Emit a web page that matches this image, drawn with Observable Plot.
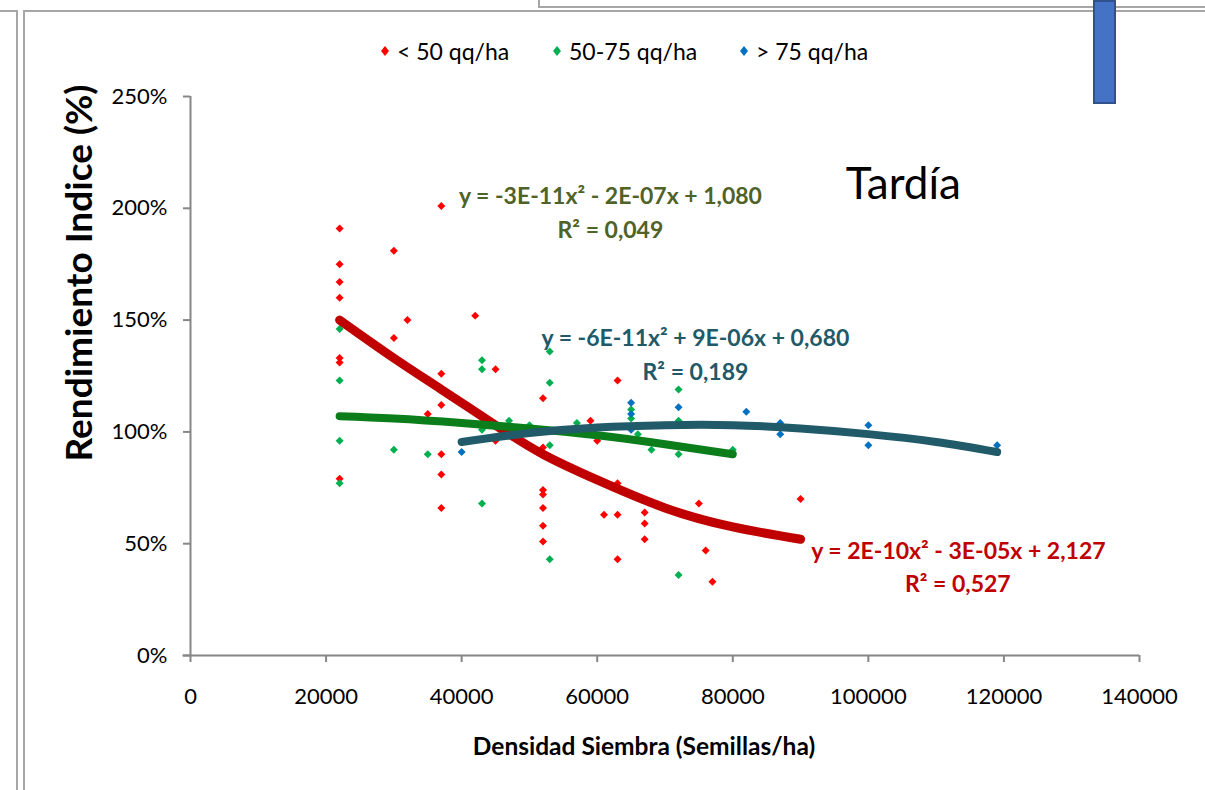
<!DOCTYPE html>
<html>
<head>
<meta charset="utf-8">
<script src="https://cdn.jsdelivr.net/npm/d3@7"></script>
<script src="https://cdn.jsdelivr.net/npm/@observablehq/plot@0.6"></script>
<style>
  html, body { margin: 0; padding: 0; background: #fff; }
  #wrap { position: relative; width: 1205px; height: 790px; overflow: hidden; font-family: Lato, "Open Sans", sans-serif; }
  #wrap svg.plot { position: absolute; left: 0; top: 0; }
  .deco { position: absolute; }
  #legend { position: absolute; top: 37px; left: 381px; font-size: 23px; color: #000; white-space: nowrap; }
  #legend .item { position: absolute; top: 0; display: flex; align-items: center; }
  #legend svg { margin-right: 8px; }
</style>
</head>
<body>
<div id="wrap">
  <div class="deco" style="left:0;top:10px;width:17px;height:2px;background:#a6a6a6"></div>
  <div class="deco" style="left:16px;top:10px;width:2px;height:780px;background:#a6a6a6"></div>
  <div class="deco" style="left:23px;top:10px;width:1182px;height:2px;background:#a6a6a6"></div>
  <div class="deco" style="left:23px;top:10px;width:2px;height:780px;background:#a6a6a6"></div>
  <div class="deco" style="left:538px;top:0;width:2px;height:8px;background:#a6a6a6"></div>
  <div class="deco" style="left:538px;top:6px;width:667px;height:2px;background:#a6a6a6"></div>
  <div id="legend"></div>
  <div class="deco" style="left:1093px;top:0;width:19px;height:100px;background:#4472C4;border:2px solid #2F528F;z-index:5"></div>
</div>
<script>
// ---- Data ----
const seriesNames = ["< 50 qq/ha", "50-75 qq/ha", "> 75 qq/ha"];
const pointColors = ["#FF0000", "#00B050", "#0070C0"];
const lineColors = ["#C00000", "#0B7D1B", "#215A68"];

// < 50 qq/ha scatter (density, yield index %)
const redX = [22000,22000,22000,22000,22000,22000,22000,
              30000,30000,32000,35000,
              37000,37000,37000,37000,37000,37000,37000,
              42000,45000,45000,
              52000,52000,52000,52000,52000,52000,52000,
              59000,60000,61000,63000,63000,63000,63000,
              67000,67000,67000,75000,76000,77000,90000];
const redY = [191,175,167,160,133,131,79,
              181,142,150,108,
              201,126,119,112,90,81,66,
              152,128,96,
              115,93,74,72,66,58,51,
              105,96,63,123,77,63,43,
              64,59,52,68,47,33,70];

// 50-75 qq/ha scatter
const greenX = [22000,22000,22000,22000,30000,35000,
                43000,43000,43000,43000,47000,50000,
                53000,53000,53000,53000,57000,65000,65000,66000,68000,
                72000,72000,72000,72000,80000];
const greenY = [146,123,96,77,92,90,
                132,128,101,68,105,103,
                136,122,94,43,104,110,106,99,92,
                119,105,90,36,92];

// > 75 qq/ha scatter
const blueX = [40000,65000,65000,65000,72000,82000,87000,87000,100000,100000,119000];
const blueY = [91,113,108,101,111,109,104,99,103,94,94];

// Trend lines
const redTrendX = [22000,30000,37000,45000,52000,60000,70000,80000,90000];
const redTrendY = [150,133,119,103,90,78.5,66,57.5,52];
const greenTrendX = [22000,30000,40000,50000,60000,70000,80000];
const greenTrendY = [107,106,104,101.5,98.5,94.5,90];
const blueTrendX = [40000,50000,60000,70000,80000,90000,100000,110000,119000];
const blueTrendY = [95.5,99.5,102,103,103,101.5,99,95.5,91];

const xTicks = [0,20000,40000,60000,80000,100000,120000,140000];
const yTicks = [0,0.5,1,1.5,2,2.5];

const eqTexts = ["y = -3E-11x² - 2E-07x + 1,080", "R² = 0,049",
                 "y = -6E-11x² + 9E-06x + 0,680", "R² = 0,189",
                 "y = 2E-10x² - 3E-05x + 2,127", "R² = 0,527"];
const titleText = "Tardía";
const yTitle = "Rendimiento Indice (%)";
const xTitle = "Densidad Siembra (Semillas/ha)";

// ---- Build tables ----
const pts = [];
[[redX, redY], [greenX, greenY], [blueX, blueY]].forEach(([xs, ys], s) => {
  xs.forEach((x, i) => pts.push({x, y: ys[i] / 100, s}));
});
const trends = [];
[[redTrendX, redTrendY], [greenTrendX, greenTrendY], [blueTrendX, blueTrendY]].forEach(([xs, ys], s) => {
  xs.forEach((x, i) => trends.push({x, y: ys[i] / 100, s}));
});
const tr = s => trends.filter(d => d.s === s);

const eqs = [
  {t: eqTexts[0], x: 61950, y: 2.053, c: "#4F6228"},
  {t: eqTexts[1], x: 61950, y: 1.90, c: "#4F6228"},
  {t: eqTexts[2], x: 74490, y: 1.418, c: "#215968"},
  {t: eqTexts[3], x: 74490, y: 1.266, c: "#215968"},
  {t: eqTexts[4], x: 113280, y: 0.465, c: "#C00000"},
  {t: eqTexts[5], x: 113200, y: 0.318, c: "#C00000"}
];

const axisGray = "#868686";
const chart = Plot.plot({
  width: 1205, height: 790,
  marginLeft: 190, marginRight: 66, marginTop: 96, marginBottom: 135,
  style: {fontFamily: "Lato, 'Open Sans', sans-serif", fontSize: "22px", color: "#000", background: "transparent"},
  x: {domain: [0, 140000]},
  y: {domain: [0, 2.5]},
  marks: [
    Plot.dot(pts, {x: "x", y: "y", fill: d => pointColors[d.s], symbol: "diamond2", r: 3.6, stroke: null}),
    Plot.line(tr(0), {x: "x", y: "y", stroke: lineColors[0], strokeWidth: 9, curve: "natural", strokeLinecap: "round"}),
    Plot.line(tr(1), {x: "x", y: "y", stroke: lineColors[1], strokeWidth: 8, curve: "natural", strokeLinecap: "round"}),
    Plot.line(tr(2), {x: "x", y: "y", stroke: lineColors[2], strokeWidth: 8, curve: "natural", strokeLinecap: "round"}),
    Plot.ruleX([0], {stroke: axisGray, strokeWidth: 2}),
    Plot.ruleY([0], {stroke: axisGray, strokeWidth: 2, x1: -1100, x2: 140000}),
    Plot.axisX({ticks: xTicks, tickFormat: d => String(d), tickSize: 7, tickPadding: 26, stroke: axisGray, strokeWidth: 2, label: null, fill: "#000"}),
    Plot.axisY({ticks: yTicks, tickFormat: d => Math.round(d * 100) + "%", tickSize: 7, tickPadding: 16, stroke: axisGray, strokeWidth: 2, label: null, fill: "#000"}),
    Plot.text(eqs, {x: "x", y: "y", text: "t", fill: "c", fontWeight: "bold", fontSize: 23}),
    Plot.text([titleText], {x: 105170, y: 2.106, text: d => d, fontSize: 44, fill: "#000"}),
    Plot.text([yTitle], {frameAnchor: "left", textAnchor: "middle", dx: -110, dy: -103, rotate: -90, text: d => d, fontWeight: "bold", fontSize: 37, fill: "#000"}),
    Plot.text([xTitle], {frameAnchor: "bottom", dx: -21, dy: 99, text: d => d, fontWeight: "bold", fontSize: 24.5, fill: "#000"})
  ]
});
chart.classList.add("plot");
document.getElementById("wrap").insertBefore(chart, document.getElementById("legend"));

// Legend
const leg = document.getElementById("legend");
const legLeft = [0, 172, 359];
seriesNames.forEach((n, i) => {
  const item = document.createElement("div");
  item.className = "item";
  item.style.left = legLeft[i] + "px";
  item.innerHTML = `<svg width="8" height="10"><path d="M4 0L8 5L4 10L0 5Z" fill="${pointColors[i]}"/></svg><span>${n}</span>`;
  leg.appendChild(item);
});
</script>
</body>
</html>
